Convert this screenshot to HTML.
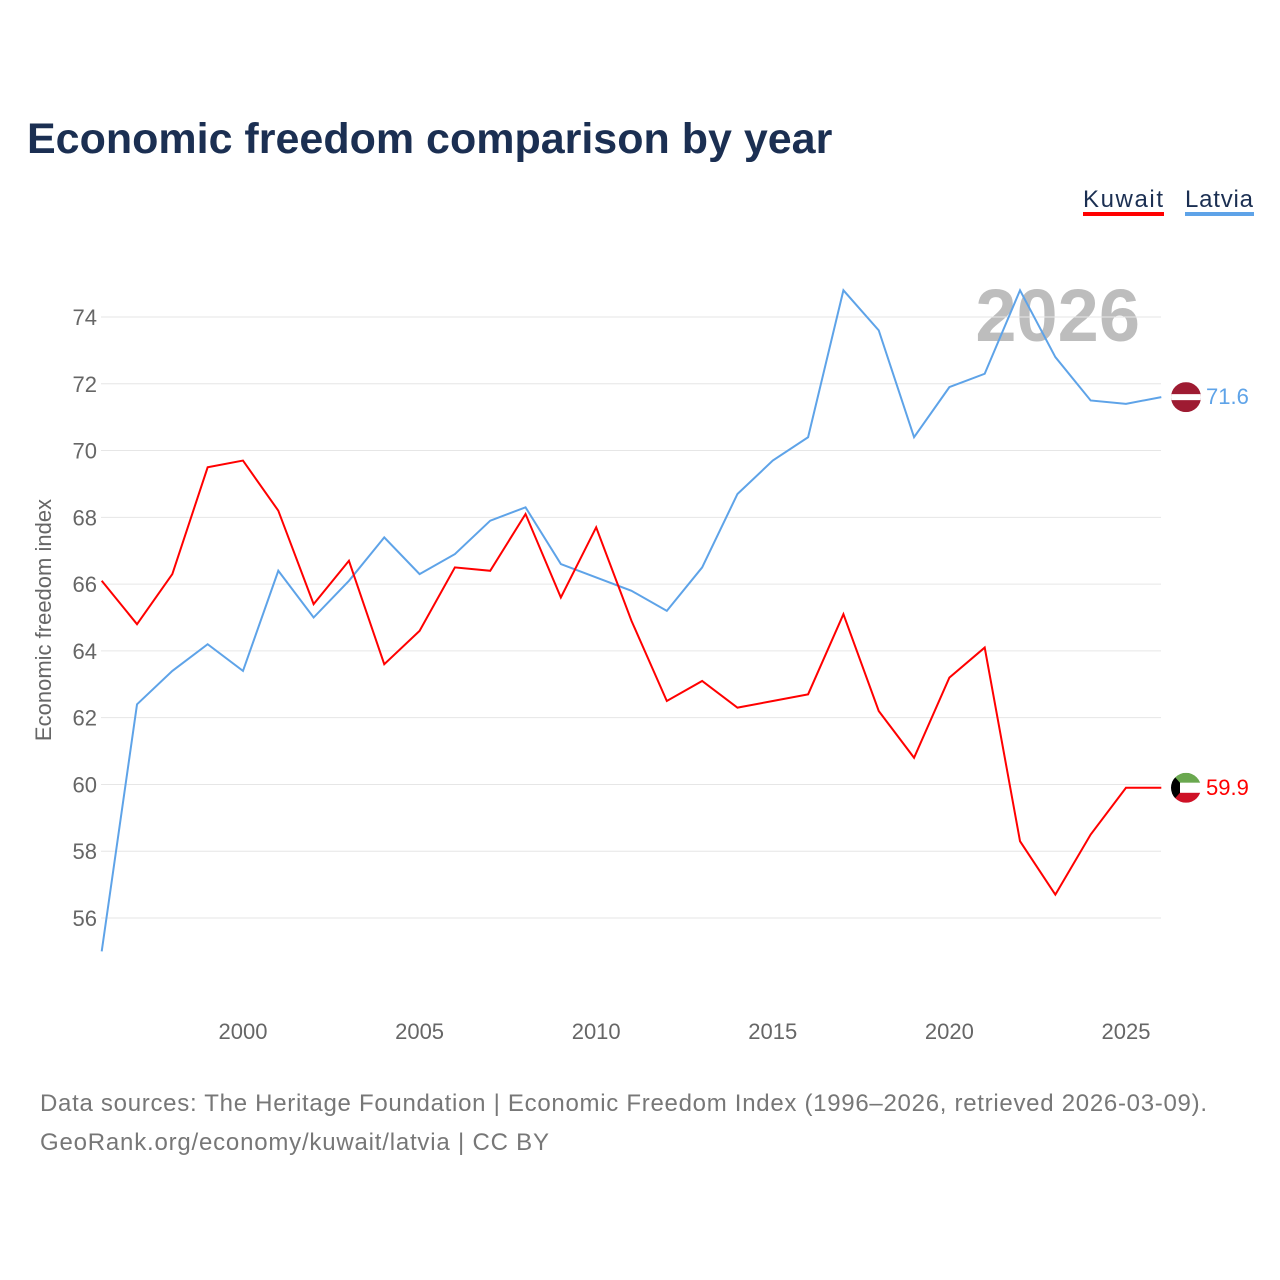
<!DOCTYPE html>
<html><head><meta charset="utf-8"><style>
body{margin:0;background:#fff;font-family:"Liberation Sans",sans-serif;}
svg{display:block}
</style></head><body>
<svg id="chart" width="1280" height="1280">
<text x="27" y="153" font-size="43" font-weight="bold" fill="#1b2f52">Economic freedom comparison by year</text>
<g>
<text x="1083" y="207" font-size="24" fill="#1b2f52" textLength="80">Kuwait</text>
<rect x="1083" y="212" width="81" height="4" fill="#ff0000"/>
<text x="1185" y="207" font-size="24" fill="#1b2f52" textLength="68">Latvia</text>
<rect x="1185" y="212" width="69" height="4" fill="#5ea3e8"/>
</g>
<text x="1140" y="341" font-size="74" font-weight="bold" fill="#bdbdbd" text-anchor="end">2026</text>
<g id="grid"></g><g id="yticks"></g><g id="xticks"></g><g id="lines"></g>
<text transform="translate(51,620) rotate(-90)" font-size="22" fill="#666" text-anchor="middle">Economic freedom index</text>
<text x="40" y="1111" font-size="24" fill="#777" textLength="1167">Data sources: The Heritage Foundation | Economic Freedom Index (1996–2026, retrieved 2026-03-09).</text>
<text x="40" y="1150" font-size="24" fill="#777" textLength="509">GeoRank.org/economy/kuwait/latvia | CC BY</text>
</svg>
<script>
const years=[1996,1997,1998,1999,2000,2001,2002,2003,2004,2005,2006,2007,2008,2009,2010,2011,2012,2013,2014,2015,2016,2017,2018,2019,2020,2021,2022,2023,2024,2025,2026];
const kuwait=[66.1,64.8,66.3,69.5,69.7,68.2,65.4,66.7,63.6,64.6,66.5,66.4,68.1,65.6,67.7,64.9,62.5,63.1,62.3,62.5,62.7,65.1,62.2,60.8,63.2,64.1,58.3,56.7,58.5,59.9,59.9];
const latvia=[55.0,62.4,63.4,64.2,63.4,66.4,65.0,66.1,67.4,66.3,66.9,67.9,68.3,66.6,66.2,65.8,65.2,66.5,68.7,69.7,70.4,74.8,73.6,70.4,71.9,72.3,74.8,72.8,71.5,71.4,71.6];
const yTicks=[56,58,60,62,64,66,68,70,72,74];
const xTicks=[2000,2005,2010,2015,2020,2025];
const NS="http://www.w3.org/2000/svg";
const X=v=>101.7+(v-1996)*35.32;
const Y=v=>317+(74-v)*33.39;
function mk(t,a,p){const e=document.createElementNS(NS,t);for(const k in a)e.setAttribute(k,a[k]);p.appendChild(e);return e;}
const grid=document.getElementById('grid'),yt=document.getElementById('yticks'),xt=document.getElementById('xticks'),ln=document.getElementById('lines');
yTicks.forEach(v=>{
 const l=mk('line',{x1:101,x2:1161,y1:Y(v),y2:Y(v),stroke:'#e6e6e6','stroke-width':1},grid);
 
 
 const t=mk('text',{x:97,y:Y(v)+8,'font-size':22,fill:'#666','text-anchor':'end'},yt);t.textContent=v;
 
 
});
xTicks.forEach(v=>{
 const t=mk('text',{x:X(v),y:1039,'font-size':22,fill:'#666','text-anchor':'middle'},xt);t.textContent=v;
 
 
});
function series(vals,color,name){
 const p=mk('polyline',{points:vals.map((v,i)=>X(years[i])+','+Y(v)).join(' '),fill:'none',stroke:color,'stroke-width':2},ln);
 
 
 const last=vals[vals.length-1],cy=Y(last),cx=1186;
 const g=mk('g',{},ln);
 
 
 const cid='clip-'+name;
 const cp=mk('clipPath',{id:cid},g);mk('circle',{cx:cx,cy:cy,r:15},cp);
 const f=mk('g',{'clip-path':'url(#'+cid+')'},g);
 if(name==='latvia'){
  mk('rect',{x:cx-15,y:cy-15,width:30,height:30,fill:'#9e1b32'},f);
  mk('rect',{x:cx-15,y:cy-3,width:30,height:6,fill:'#fff'},f);
 }else{
  mk('rect',{x:cx-15,y:cy-15,width:30,height:10,fill:'#6aa84f'},f);
  mk('rect',{x:cx-15,y:cy-5,width:30,height:10,fill:'#fff'},f);
  mk('rect',{x:cx-15,y:cy+5,width:30,height:10,fill:'#ce1126'},f);
  mk('polygon',{points:(cx-15)+','+(cy-15)+' '+(cx-6)+','+(cy-5)+' '+(cx-6)+','+(cy+5)+' '+(cx-15)+','+(cy+15),fill:'#000'},f);
 }
 const t=mk('text',{x:1206,y:cy+7,'font-size':22,fill:color},ln);t.textContent=last.toFixed(1);
 
 
}
series(latvia,'#5ea3e8','latvia');
series(kuwait,'#ff0000','kuwait');
</script>
</body></html>
